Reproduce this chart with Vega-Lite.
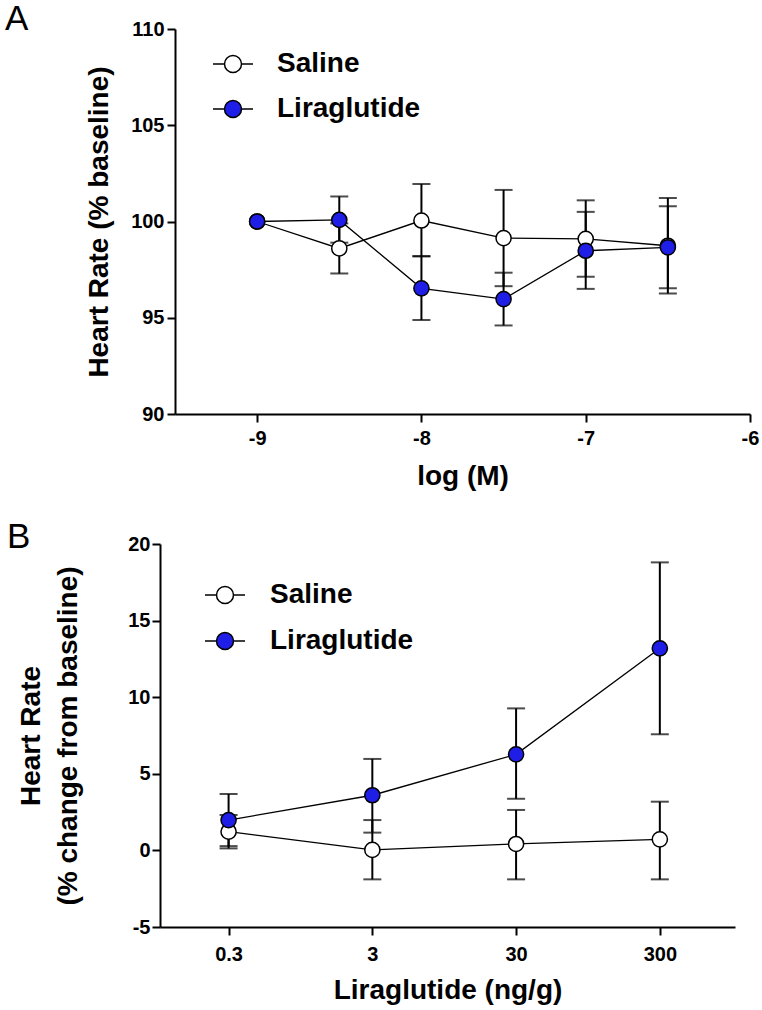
{
  "$schema": "https://vega.github.io/schema/vega-lite/v6.json",
  "background": "white",
  "padding": {"left": 5, "top": 2, "right": 5, "bottom": 3},
  "spacing": 30,
  "config": {
    "view": {"stroke": null},
    "font": "Liberation Sans",
    "axis": {
      "grid": false,
      "domainColor": "black",
      "domainWidth": 2,
      "tickColor": "black",
      "tickWidth": 2,
      "tickSize": 8,
      "labelColor": "black",
      "labelFont": "Liberation Sans",
      "labelFontWeight": "bold",
      "labelFontSize": 20,
      "labelFlush": false,
      "labelOverlap": false,
      "labelExpr": "'' + datum.value",
      "titleFont": "Liberation Sans",
      "titleFontWeight": "bold",
      "titleFontSize": 28,
      "titleColor": "black"
    },
    "legend": {
      "labelFont": "Liberation Sans",
      "labelFontWeight": "bold",
      "labelFontSize": 28,
      "labelColor": "black",
      "padding": 0
    }
  },
  "resolve": {"scale": {"fill": "independent"}, "legend": {"fill": "independent"}},
  "vconcat": [
    {
      "width": 590,
      "height": 385,
      "title": {"text": "A", "anchor": "start", "frame": "group", "fontSize": 35, "fontWeight": "normal", "font": "Liberation Sans", "color": "black", "baseline": "alphabetic", "offset": -10, "dx": -155, "dy": 36},
      "data": {"values": [
        {"group": "Saline", "x": -9, "mean": 100},
        {"group": "Saline", "x": -8.5, "mean": 98.6, "lo": 97.3, "hi": 99.9},
        {"group": "Saline", "x": -8, "mean": 100.05, "lo": 98.2, "hi": 101.95},
        {"group": "Saline", "x": -7.5, "mean": 99.14, "lo": 96.64, "hi": 101.64},
        {"group": "Saline", "x": -7, "mean": 99.1, "lo": 97.13, "hi": 101.1},
        {"group": "Saline", "x": -6.5, "mean": 98.74, "lo": 96.26, "hi": 101.22},
        {"group": "Liraglutide", "x": -9, "mean": 100},
        {"group": "Liraglutide", "x": -8.5, "mean": 100.08, "lo": 98.9, "hi": 101.3},
        {"group": "Liraglutide", "x": -8, "mean": 96.53, "lo": 94.88, "hi": 98.2},
        {"group": "Liraglutide", "x": -7.5, "mean": 95.97, "lo": 94.6, "hi": 97.34},
        {"group": "Liraglutide", "x": -7, "mean": 98.48, "lo": 96.5, "hi": 100.5},
        {"group": "Liraglutide", "x": -6.5, "mean": 98.66, "lo": 96.53, "hi": 100.79}
      ]},
      "encoding": {
        "x": {"field": "x", "type": "quantitative", "title": "log (M)",
              "scale": {"domain": [-9.5, -6], "rangeMin": 15, "nice": false, "zero": false},
              "axis": {"values": [-9, -8, -7, -6], "labelPadding": 6, "titlePadding": 14}}
      },
      "layer": [
        {"mark": {"type": "line", "color": "black", "strokeWidth": 1.3},
         "encoding": {"y": {"field": "mean", "type": "quantitative", "title": "Heart Rate (% baseline)",
                            "scale": {"domain": [90, 110], "nice": false, "zero": false},
                            "axis": {"values": [90, 95, 100, 105, 110], "offset": -15, "labelPadding": 3, "titlePadding": 17}},
                      "detail": {"field": "group"}}},
        {"mark": {"type": "rule", "color": "black", "strokeWidth": 2},
         "encoding": {"y": {"field": "lo", "type": "quantitative"}, "y2": {"field": "hi"}}},
        {"mark": {"type": "tick", "orient": "horizontal", "color": "black", "size": 18, "thickness": 2},
         "encoding": {"y": {"field": "lo", "type": "quantitative"}}},
        {"mark": {"type": "tick", "orient": "horizontal", "color": "black", "size": 18, "thickness": 2},
         "encoding": {"y": {"field": "hi", "type": "quantitative"}}},
        {"mark": {"type": "point", "filled": true, "size": 230, "stroke": "black", "strokeWidth": 1.5, "opacity": 1},
         "encoding": {"y": {"field": "mean", "type": "quantitative"},
                      "fill": {"field": "group", "type": "nominal",
                               "scale": {"domain": ["Saline", "Liraglutide"], "range": ["white", "#1e1ee6"]},
                               "legend": {"orient": "none", "legendX": 52, "legendY": 14, "title": null,
                                          "symbolType": "M-1,0L-0.425,0M0.425,0L1,0M-0.425,0A0.425,0.425,0,1,1,0.425,0A0.425,0.425,0,1,1,-0.425,0Z",
                                          "symbolSize": 1600, "symbolStrokeColor": "black", "symbolStrokeWidth": 1.5,
                                          "labelOffset": 23, "rowPadding": 10,
                                          "encode": {"symbols": {"update": {
                                            "shape": {"value": "M-1,0L-0.425,0M0.425,0L1,0M-0.425,0A0.425,0.425,0,1,1,0.425,0A0.425,0.425,0,1,1,-0.425,0Z"},
                                            "size": {"value": 1600}, "stroke": {"value": "black"}, "strokeWidth": {"value": 1.5}}}}}}}}
      ]
    },
    {
      "width": 575,
      "height": 383,
      "title": {"text": "B", "anchor": "start", "frame": "group", "fontSize": 35, "fontWeight": "normal", "font": "Liberation Sans", "color": "black", "baseline": "alphabetic", "offset": -14, "dx": -153, "dy": 35},
      "data": {"values": [
        {"group": "Saline", "x": 0.3, "mean": 1.22, "lo": 0.13, "hi": 2.31},
        {"group": "Saline", "x": 3, "mean": 0.03, "lo": -1.89, "hi": 1.98},
        {"group": "Saline", "x": 30, "mean": 0.42, "lo": -1.89, "hi": 2.64},
        {"group": "Saline", "x": 300, "mean": 0.72, "lo": -1.89, "hi": 3.18},
        {"group": "Liraglutide", "x": 0.3, "mean": 1.98, "lo": 0.28, "hi": 3.68},
        {"group": "Liraglutide", "x": 3, "mean": 3.6, "lo": 1.16, "hi": 5.97},
        {"group": "Liraglutide", "x": 30, "mean": 6.27, "lo": 3.37, "hi": 9.27},
        {"group": "Liraglutide", "x": 300, "mean": 13.19, "lo": 7.58, "hi": 18.8}
      ]},
      "encoding": {
        "x": {"field": "x", "type": "quantitative", "title": "Liraglutide (ng/g)",
              "scale": {"type": "log", "domain": [0.1, 1000], "nice": false},
              "axis": {"values": [0.3, 3, 30, 300], "labelPadding": 9, "titlePadding": 12}}
      },
      "layer": [
        {"mark": {"type": "rule", "color": "black", "strokeWidth": 2, "strokeDash": [2, 3]},
         "encoding": {"y": {"datum": 0, "type": "quantitative"}}},
        {"mark": {"type": "line", "color": "black", "strokeWidth": 1.3},
         "encoding": {"y": {"field": "mean", "type": "quantitative",
                            "scale": {"domain": [-5, 20], "nice": false, "zero": false},
                            "title": ["Heart Rate", "(% change from baseline)"],
                            "axis": {"values": [-5, 0, 5, 10, 15, 20], "labelPadding": 2, "titlePadding": 45, "titleLineHeight": 37}},
                      "detail": {"field": "group"}}},
        {"mark": {"type": "rule", "color": "black", "strokeWidth": 2},
         "encoding": {"y": {"field": "lo", "type": "quantitative"}, "y2": {"field": "hi"}}},
        {"mark": {"type": "tick", "orient": "horizontal", "color": "black", "size": 18, "thickness": 2},
         "encoding": {"y": {"field": "lo", "type": "quantitative"}}},
        {"mark": {"type": "tick", "orient": "horizontal", "color": "black", "size": 18, "thickness": 2},
         "encoding": {"y": {"field": "hi", "type": "quantitative"}}},
        {"mark": {"type": "point", "filled": true, "size": 230, "stroke": "black", "strokeWidth": 1.5, "opacity": 1},
         "encoding": {"y": {"field": "mean", "type": "quantitative"},
                      "fill": {"field": "group", "type": "nominal",
                               "scale": {"domain": ["Saline", "Liraglutide"], "range": ["white", "#1e1ee6"]},
                               "legend": {"orient": "none", "legendX": 44, "legendY": 30, "title": null,
                                          "symbolType": "M-1,0L-0.425,0M0.425,0L1,0M-0.425,0A0.425,0.425,0,1,1,0.425,0A0.425,0.425,0,1,1,-0.425,0Z",
                                          "symbolSize": 1600, "symbolStrokeColor": "black", "symbolStrokeWidth": 1.5,
                                          "labelOffset": 24, "rowPadding": 11,
                                          "encode": {"symbols": {"update": {
                                            "shape": {"value": "M-1,0L-0.425,0M0.425,0L1,0M-0.425,0A0.425,0.425,0,1,1,0.425,0A0.425,0.425,0,1,1,-0.425,0Z"},
                                            "size": {"value": 1600}, "stroke": {"value": "black"}, "strokeWidth": {"value": 1.5}}}}}}}}
      ]
    }
  ]
}
